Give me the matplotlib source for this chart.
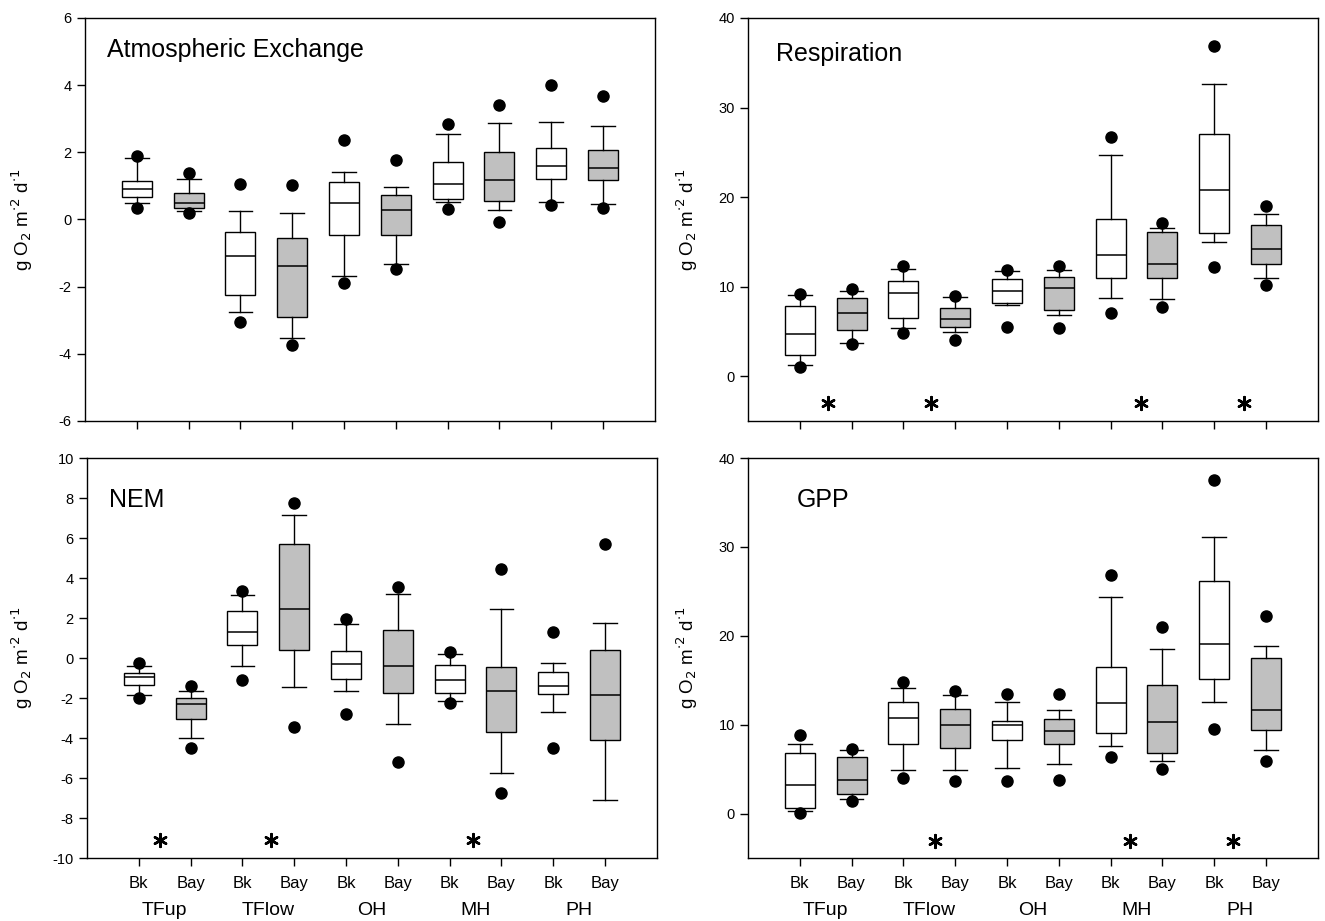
import numpy as np
import matplotlib.pyplot as plt
from matplotlib import transforms

plt.rcParams['font.family'] = ['Liberation Sans', 'DejaVu Sans']
plt.rcParams['axes.unicode_minus'] = False

sites = ["TFup", "TFlow", "OH", "MH", "PH"]
habitats = ["Bk", "Bay"]

# order of every list: TFup Bk, TFup Bay, TFlow Bk, TFlow Bay, OH Bk, OH Bay, MH Bk, MH Bay, PH Bk, PH Bay
# Atmospheric exchange
atm_med = [0.91, 0.50, -1.09, -1.38, 0.49, 0.29, 1.06, 1.17, 1.58, 1.53]
atm_q1 = [0.67, 0.33, -2.25, -2.90, -0.47, -0.46, 0.62, 0.55, 1.20, 1.16]
atm_q3 = [1.13, 0.80, -0.36, -0.54, 1.12, 0.74, 1.71, 2.02, 2.12, 2.06]
atm_lo = [0.50, 0.24, -2.76, -3.52, -1.67, -1.34, 0.53, 0.29, 0.53, 0.45]
atm_hi = [1.82, 1.20, 0.26, 0.19, 1.41, 0.98, 2.54, 2.87, 2.90, 2.77]
atm_p5 = [0.35, 0.19, -3.04, -3.74, -1.88, -1.49, 0.32, -0.07, 0.43, 0.34]
atm_p95 = [1.88, 1.38, 1.05, 1.04, 2.38, 1.76, 2.83, 3.42, 4.00, 3.69]

# Respiration
res_med = [4.67, 7.07, 9.27, 6.39, 9.53, 9.87, 13.5, 12.52, 20.8, 14.17]
res_q1 = [2.32, 5.16, 6.54, 5.50, 8.19, 7.36, 10.95, 10.95, 16.0, 12.56]
res_q3 = [7.81, 8.71, 10.6, 7.66, 10.9, 11.1, 17.6, 16.15, 27.07, 16.9]
res_lo = [1.23, 3.66, 5.42, 4.90, 7.89, 6.80, 8.75, 8.56, 15.03, 10.92]
res_hi = [9.05, 9.53, 11.96, 8.86, 11.74, 11.85, 24.7, 16.5, 32.6, 18.06]
res_p5 = [1.01, 3.59, 4.82, 4.04, 5.50, 5.38, 7.03, 7.70, 12.22, 10.17]
res_p95 = [9.20, 9.68, 12.3, 8.90, 11.8, 12.3, 26.7, 17.05, 36.9, 19.03]

# NEM
nem_med = [-0.96, -2.31, 1.29, 2.47, -0.30, -0.41, -1.10, -1.64, -1.39, -1.83]
nem_q1 = [-1.34, -3.05, 0.66, 0.38, -1.03, -1.73, -1.73, -3.72, -1.79, -4.08]
nem_q3 = [-0.73, -2.00, 2.36, 5.69, 0.35, 1.38, -0.33, -0.43, -0.70, 0.41]
nem_lo = [-1.83, -4.02, -0.38, -1.44, -1.63, -3.30, -2.14, -5.76, -2.70, -7.10]
nem_hi = [-0.38, -1.64, 3.15, 7.15, 1.71, 3.20, 0.18, 2.47, -0.25, 1.74]
nem_p5 = [-2.00, -4.51, -1.08, -3.44, -2.80, -5.18, -2.24, -6.75, -4.50, None]
nem_p95 = [-0.25, -1.39, 3.35, 7.77, 1.93, 3.54, 0.30, 4.47, 1.28, 5.69]

# GPP
gpp_med = [3.26, 3.82, 10.8, 10.01, 9.94, 9.30, 12.45, 10.27, 19.05, 11.62]
gpp_q1 = [0.67, 2.17, 7.80, 7.42, 8.32, 7.80, 9.04, 6.86, 15.11, 9.45]
gpp_q3 = [6.82, 6.37, 12.56, 11.74, 10.39, 10.65, 16.46, 14.51, 26.17, 17.51]
gpp_lo = [0.26, 1.65, 4.91, 4.91, 5.17, 5.62, 7.65, 5.89, 12.6, 7.12]
gpp_hi = [7.80, 7.20, 14.14, 13.31, 12.6, 11.62, 24.41, 18.52, 31.12, 18.9]
gpp_p5 = [0.07, 1.46, 4.01, 3.67, 3.64, 3.79, 6.37, 4.99, 9.49, 5.92]
gpp_p95 = [8.81, 7.31, 14.77, 13.8, 13.42, 13.42, 26.8, 21.0, 37.5, 22.23]

# significant Bk vs Bay differences: x positions and marker height
res_star_x = [1.54, 3.53, 7.59, 9.58]
res_star_y = -3.0
nem_star_x = [1.41, 3.55, 7.45]
nem_star_y = -9.1
gpp_star_x = [3.61, 7.37, 9.36]
gpp_star_y = -3.1

ylab = r"g O$_2$ m$^{\cdot 2}$ d$^{\cdot 1}$"

fig = plt.figure(figsize=(13.25, 9.21), dpi=100)
ax_atm = fig.add_axes([0.0642, 0.543, 0.430, 0.4375])
ax_res = fig.add_axes([0.5645, 0.543, 0.430, 0.4375])
ax_nem = fig.add_axes([0.0657, 0.0684, 0.430, 0.4343])
ax_gpp = fig.add_axes([0.5645, 0.0684, 0.430, 0.4343])


def draw_boxes(ax, med, q1, q3, lo, hi, p5, p95):
    stats = []
    for i in range(len(med)):
        fl = [v for v in (p5[i], p95[i]) if v is not None]
        stats.append(dict(med=med[i], q1=q1[i], q3=q3[i], whislo=lo[i],
                          whishi=hi[i], fliers=fl))
    pos = np.arange(1, len(med) + 1)
    bp = ax.bxp(stats, positions=pos, widths=0.58, capwidths=0.46,
                patch_artist=True, showfliers=True,
                boxprops=dict(edgecolor='black', linewidth=1.0),
                medianprops=dict(color='black', linewidth=1.1),
                whiskerprops=dict(color='black', linewidth=1.0),
                capprops=dict(color='black', linewidth=1.0),
                flierprops=dict(marker='o', markerfacecolor='black',
                                markeredgecolor='black', markersize=8))
    for i, b in enumerate(bp['boxes']):
        b.set_facecolor('white' if i % 2 == 0 else '#c0c0c0')
    ax.set_xlim(0, 11)
    ax.set_xticks(pos)
    ax.tick_params(direction='out', length=6, width=1, labelsize=10.5)
    for s in ax.spines.values():
        s.set_linewidth(1.0)


def draw_stars(ax, xs, y):
    ax.scatter(xs, [y] * len(xs), marker=(6, 2, 0), s=85, linewidths=1.8,
               color='black')


draw_boxes(ax_atm, atm_med, atm_q1, atm_q3, atm_lo, atm_hi, atm_p5, atm_p95)
draw_boxes(ax_res, res_med, res_q1, res_q3, res_lo, res_hi, res_p5, res_p95)
draw_boxes(ax_nem, nem_med, nem_q1, nem_q3, nem_lo, nem_hi, nem_p5, nem_p95)
draw_boxes(ax_gpp, gpp_med, gpp_q1, gpp_q3, gpp_lo, gpp_hi, gpp_p5, gpp_p95)

ax_atm.set_ylim(-6, 6)
ax_atm.set_yticks(np.arange(-6, 7, 2))
ax_res.set_ylim(-5, 40)
ax_res.set_yticks(np.arange(0, 41, 10))
ax_nem.set_ylim(-10, 10)
ax_nem.set_yticks(np.arange(-10, 11, 2))
ax_gpp.set_ylim(-5, 40)
ax_gpp.set_yticks(np.arange(0, 41, 10))

for ax in (ax_atm, ax_res):
    ax.set_xticklabels([])

for ax in (ax_nem, ax_gpp):
    ax.set_xticklabels(habitats * len(sites), fontsize=12)
    ax.tick_params(axis='x', pad=7)
    trans = transforms.blended_transform_factory(ax.transData, ax.transAxes)
    for k, s in enumerate(sites):
        ax.text(2 * k + 1.5, -0.13, s, transform=trans, ha='center',
                va='center', fontsize=14)

ax_atm.text(0.038, 0.92, "Atmospheric Exchange", transform=ax_atm.transAxes,
            ha='left', va='center', fontsize=18)
ax_res.text(0.05, 0.91, "Respiration", transform=ax_res.transAxes,
            ha='left', va='center', fontsize=18)
ax_nem.text(0.038, 0.895, "NEM", transform=ax_nem.transAxes,
            ha='left', va='center', fontsize=18)
ax_gpp.text(0.085, 0.895, "GPP", transform=ax_gpp.transAxes,
            ha='left', va='center', fontsize=18)

for ax in (ax_atm, ax_res, ax_nem, ax_gpp):
    ax.set_ylabel(ylab, fontsize=13.5)
ax_atm.yaxis.set_label_coords(-0.088, 0.5)
ax_nem.yaxis.set_label_coords(-0.091, 0.5)
ax_res.yaxis.set_label_coords(-0.085, 0.5)
ax_gpp.yaxis.set_label_coords(-0.085, 0.5)

draw_stars(ax_res, res_star_x, res_star_y)
draw_stars(ax_nem, nem_star_x, nem_star_y)
draw_stars(ax_gpp, gpp_star_x, gpp_star_y)

fig.savefig("out.png", dpi=100)
